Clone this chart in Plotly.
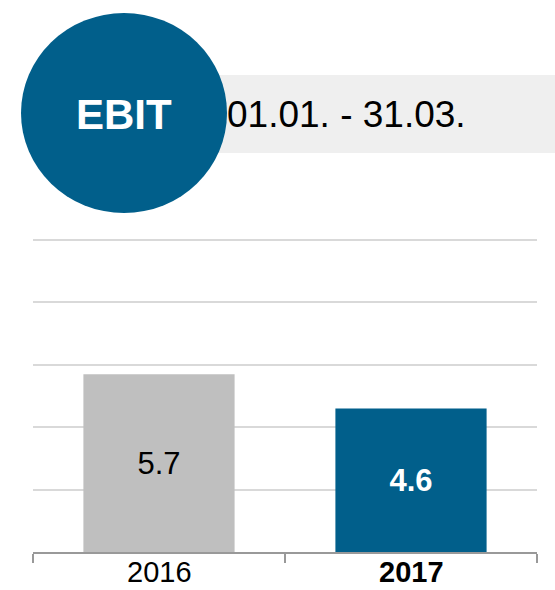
import plotly.graph_objects as go

years = ["2016", "2017"]
ebit = [5.7, 4.6]
bar_labels = ["5.7", "<b>4.6</b>"]
tick_labels = ["2016", "<b>2017</b>"]
bar_colors = ["#bfbfbf", "#015f8b"]
label_colors = ["#000000", "#ffffff"]
title_text = "EBIT"
period_text = "01.01. - 31.03."

W, H = 555, 590
L, R, T, B = 33, 18, 238, 38
pw, ph = W - L - R, H - T - B
YMAX = 10 * ph / 312.0  # keeps 31.2 px per unit, leaves room for top gridline

def px(x):
    return (x - L) / pw

def py(y):
    return (H - B - y) / ph

FONT = "Arial, Liberation Sans, sans-serif"

fig = go.Figure(go.Bar(
    x=years, y=ebit, width=0.6,
    marker=dict(color=bar_colors, line=dict(width=0)),
    text=bar_labels, textposition="inside", insidetextanchor="middle",
    textfont=dict(size=31, color=label_colors, family=FONT),
    constraintext="none", cliponaxis=False, hoverinfo="skip",
))

# category index positions for the tick-label annotations
tick_annotations = [
    dict(text=lab, xref="x", yref="paper", x=i, y=py(589),
         xanchor="center", yanchor="bottom", showarrow=False, borderpad=0,
         font=dict(size=29, color="#000000", family=FONT))
    for i, lab in enumerate(tick_labels)
]

fig.update_layout(
    width=W, height=H,
    margin=dict(l=L, r=R, t=T, b=B, autoexpand=False),
    paper_bgcolor="white", plot_bgcolor="white",
    showlegend=False,
    font=dict(family=FONT, color="#000000"),
    xaxis=dict(
        type="category", categoryorder="array", categoryarray=years,
        range=[-0.5, len(years) - 0.5],
        showticklabels=False,
        showline=True, linecolor="#999999", linewidth=2,
        ticks="outside", tickson="boundaries", ticklen=9, tickwidth=2, tickcolor="#999999",
        showgrid=False, fixedrange=True, automargin=False,
    ),
    yaxis=dict(
        range=[0, YMAX], tick0=0, dtick=2, showticklabels=False,
        showgrid=True, gridcolor="#d9d9d9", gridwidth=2,
        zeroline=False, showline=False, fixedrange=True, automargin=False,
    ),
    shapes=[
        dict(type="rect", xref="paper", yref="paper",
             x0=px(150), x1=px(560), y0=py(153), y1=py(75),
             fillcolor="#efefef", line=dict(width=0), layer="above"),
        dict(type="circle", xref="paper", yref="paper",
             x0=px(21), x1=px(227), y0=py(213), y1=py(13),
             fillcolor="#015f8b", line=dict(width=0), layer="above"),
    ],
    annotations=[
        dict(text="<b>" + title_text + "</b>", xref="paper", yref="paper",
             x=px(124), y=py(114), xanchor="center", yanchor="middle",
             showarrow=False, font=dict(size=42, color="#ffffff", family=FONT)),
        dict(text=period_text, xref="paper", yref="paper",
             x=px(225), y=py(114), xanchor="left", yanchor="middle",
             showarrow=False, font=dict(size=37, color="#000000", family=FONT)),
    ] + tick_annotations,
)

fig.write_html("out.html", config=dict(displayModeBar=False))
